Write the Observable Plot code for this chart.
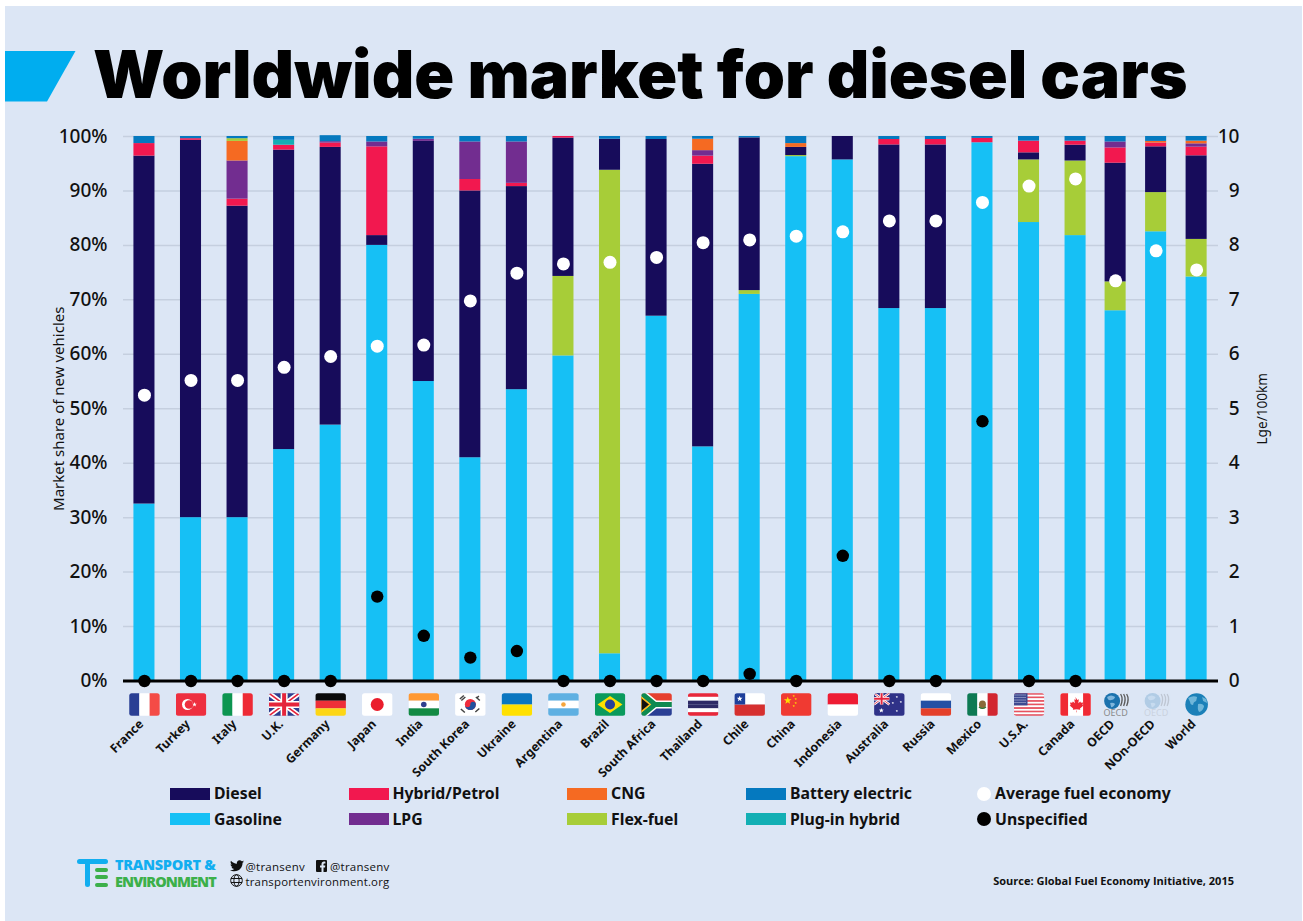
<!DOCTYPE html>
<html><head><meta charset="utf-8">
<script src="https://cdn.jsdelivr.net/npm/d3@7"></script>
<script src="https://cdn.jsdelivr.net/npm/@observablehq/plot@0.6"></script>
<style>
html,body{margin:0;padding:0;background:#fff;}
#page{position:absolute;left:5px;top:6px;width:1297px;height:915px;background:#dce6f5;overflow:hidden;}
#abs{position:absolute;left:0;top:0;width:1303px;height:921px;font-family:"Noto Sans",sans-serif;color:#111;overflow:hidden;}
#ban{position:absolute;left:5px;top:50.5px;}
#title{position:absolute;left:93px;top:30px;font:900 66px/88px Inter,sans-serif;color:#000;white-space:nowrap;letter-spacing:0;}
#chart{position:absolute;left:0;top:120px;}
#chart svg{background:transparent;overflow:visible;}
.lg{position:absolute;font:700 15.8px/20px "Noto Sans",sans-serif;color:#111;white-space:nowrap;}
.sw{position:absolute;width:40px;height:12px;}
.dt{position:absolute;width:14px;height:14px;border-radius:50%;}
.ft{position:absolute;white-space:nowrap;}
</style></head><body>
<div id="page"></div>
<div id="abs">
<svg id="ban" width="71" height="51"><polygon points="0,0 70.5,0 42,50.5 0,50.5" fill="#00adef"/></svg>
<div id="title">Worldwide market for diesel cars</div>
<div id="chart"></div>
<div id="legend"></div>
<svg class="ft" style="left:76px;top:857px" width="34" height="32"><rect x="1" y="2" width="31" height="5" rx="2.5" fill="#12aef0"/><rect x="9" y="2" width="5" height="28" rx="2.5" fill="#12aef0"/><rect x="19" y="11" width="13" height="4" rx="2" fill="#3cb04a"/><rect x="19" y="18" width="13" height="4" rx="2" fill="#3cb04a"/><rect x="19" y="26" width="13" height="4" rx="2" fill="#3cb04a"/></svg>
<div class="ft" style="left:115px;top:856px;font:800 14.5px/18px 'Open Sans',sans-serif;color:#12aef0;letter-spacing:-.3px">TRANSPORT &amp;</div>
<div class="ft" style="left:115px;top:873px;font:800 14.5px/18px 'Open Sans',sans-serif;color:#3cb04a;letter-spacing:-.95px">ENVIRONMENT</div>
<svg class="ft" style="left:230px;top:860px" width="14" height="12" viewBox="0 0 24 20"><path d="M24 2.4c-.9.4-1.8.7-2.8.8 1-.6 1.8-1.6 2.2-2.7-1 .6-2 1-3.1 1.2C19.3.7 18 0 16.600 0c-3.200 0-5.500 3-4.800 6C7.700 5.800 4.100 3.900 1.700.9.400 3.100 1 6 3.200 7.400c-.8 0-1.600-.2-2.200-.6C1 9.100 2.600 11 4.900 11.500c-.7.2-1.400.2-2.200.1.600 1.900 2.400 3.300 4.600 3.400C5.200 16.600 2.600 17.300 0 17c2.200 1.400 4.800 2.200 7.500 2.200 9.100 0 14.300-7.700 14-14.600 1-.7 1.800-1.500 2.500-2.200z" fill="#111"/></svg>
<div class="ft" style="left:245.500px;top:858px;font:500 11.500px/17px 'Open Sans',sans-serif;letter-spacing:.25px">@transenv</div>
<svg class="ft" style="left:316px;top:860px" width="11" height="12" viewBox="0 0 11 12"><rect width="11" height="12" rx="1" fill="#111"/><path d="M7.500 12V7.500H9L9.300 5.500H7.500V4.400c0-.6.2-1 1-1h.9V1.700C9 1.600 8.500 1.600 8 1.600 6.500 1.600 5.500 2.500 5.500 4.200v1.300H4v2h1.500V12z" fill="#dce6f5"/></svg>
<div class="ft" style="left:330px;top:858px;font:500 11.500px/17px 'Open Sans',sans-serif;letter-spacing:.25px">@transenv</div>
<svg class="ft" style="left:230px;top:874px" width="13" height="13" viewBox="0 0 13 13" fill="none" stroke="#111" stroke-width="1"><circle cx="6.500" cy="6.500" r="5.800"/><ellipse cx="6.500" cy="6.500" rx="2.600" ry="5.800"/><path d="M1 4.500H12M1 8.500H12"/></svg>
<div class="ft" style="left:245.500px;top:873px;font:500 11.400px/17px 'Open Sans',sans-serif;letter-spacing:.2px">transportenvironment.org</div>
<div class="ft" style="right:69px;top:873px;font:700 11px/16px 'Open Sans',sans-serif">Source: Global Fuel Economy Initiative, 2015</div>
</div>
<script>
// ---- data (percent of new vehicles, stacked bottom to top) ----
const countries = ["France","Turkey","Italy","U.K.","Germany","Japan","India","South Korea","Ukraine","Argentina","Brazil","South Africa","Thailand","Chile","China","Indonesia","Australia","Russia","Mexico","U.S.A.","Canada","OECD","NOn-OECD","World"];
// position along the category axis: the three aggregate groups sit closer together
const slots = [0,1,2,3,4,5,6,7,8,9,10,11,12,13,14,15,16,17,18,19,20,20.86,21.73,22.6];
const gasoline  = [32.5,30,30,42.5,47,80,55,41,53.5,59.7,5,67,43,71,96.3,95.7,68.4,68.4,98.85,84.2,81.8,68,82.5,74.2];
const flexFuel  = [0,0,0,0,0,0,0,0,0,14.6,88.8,0,0,0.7,0.2,0,0,0,0,11.5,13.7,5.3,7.2,6.9];
const diesel    = [63.9,69.3,57.2,55,51,1.8,44.1,49,37.3,25.4,5.7,32.45,51.9,28.05,1.5,4.3,30.05,30.05,0,1.3,2.9,21.8,8.4,15.35];
const hybrid    = [2.3,0.3,1.3,0.9,0.8,16.3,0,2.1,0.6,0.3,0,0,1.5,0,0,0,1,1,0.8,2.15,0.75,2.8,0.7,1.6];
const lpg       = [0,0,7,0,0.25,0.9,0.4,6.9,7.6,0,0,0,1,0,0,0,0,0,0,0,0,1.1,0,0.6];
const cng       = [0,0,3.6,0,0,0,0,0,0,0,0,0,2.1,0,0.7,0,0,0,0,0,0,0,0.3,0.5];
const flexUpper = [0,0,0.5,0,0,0,0,0,0,0,0,0,0,0,0,0,0,0,0,0,0,0,0,0];
const plugin    = [0,0,0,0.9,0,0,0,0,0,0,0,0,0,0,0,0,0,0,0,0,0,0,0,0];
const battery   = [1.3,0.4,0.4,0.7,1.1,1,0.5,1,1,0,0.5,0.55,0.5,0.25,1.3,0,0.55,0.55,0.35,0.85,0.85,1,0.9,0.85];
// Lge/100km (right axis)
const fuelEconomy = [5.25,5.52,5.52,5.76,5.96,6.15,6.17,6.98,7.49,7.66,7.69,7.78,8.05,8.1,8.17,8.25,8.45,8.45,8.79,9.09,9.22,7.35,7.9,7.55];
const unspecified = [0,0,0,0,0,1.55,0.83,0.43,0.55,0,0,0,0,0.13,0,2.3,0,0,4.77,0,0,null,null,null];
const percentTicks = [0,10,20,30,40,50,60,70,80,90,100];

const layers = [
  ["Gasoline",gasoline],["Flex-fuel",flexFuel],["Diesel",diesel],["Hybrid/Petrol",hybrid],["LPG",lpg],
  ["CNG",cng],["Flex-fuel",flexUpper],["Plug-in hybrid",plugin],["Battery electric",battery]
];
const colorDomain = ["Diesel","Gasoline","Hybrid/Petrol","LPG","CNG","Flex-fuel","Battery electric","Plug-in hybrid"];
const colorRange  = ["#170c5b","#16c0f5","#f2184f","#722d90","#f56a22","#a7cd38","#0579bf","#13afb4"];

// ---- flags ----
const rects=(o,h,cs)=>cs.map((c,i)=>`<rect x="0" y="${o+i*h}" width="31" height="${h+.1}" fill="${c}"/>`).join("");
const vert=(cs)=>cs.map((c,i)=>`<rect x="${i*31/cs.length}" y="0" width="${31/cs.length+.2}" height="23" fill="${c}"/>`).join("");
const jack=(s,w,h)=>`<g transform="scale(${w/31},${h/23})"><rect width="31" height="23" fill="${s}"/><path d="M0 0L31 23M31 0L0 23" stroke="#fff" stroke-width="5"/><path d="M0 0L31 23M31 0L0 23" stroke="#e5243b" stroke-width="1.6"/><path d="M15.500 0V23M0 11.500H31" stroke="#fff" stroke-width="7"/><path d="M15.500 0V23M0 11.500H31" stroke="#e5243b" stroke-width="4"/></g>`;
const star=(x,y,r,c)=>{let p=[];for(let i=0;i<10;i++){const a=-Math.PI/2+i*Math.PI/5,q=i%2?r*.42:r;p.push((x+q*Math.cos(a)).toFixed(2)+","+(y+q*Math.sin(a)).toFixed(2));}return `<polygon points="${p.join(" ")}" fill="${c}"/>`;};
const globe=`<circle cx="12" cy="8" r="8" fill="#1b72ad"/><path d="M7 4q4-3 8 0q-1 3-4 3q-3 1-4-3M10 10q3-1 5 1q-2 4-4 3z" fill="#7fb6dc"/><path d="M20.500 1q3 5 0 12M23.500 1q3 5 0 12M26.500 1q3 5 0 12" fill="none" stroke="#5b5b5b" stroke-width="1.300"/><text x="15.500" y="22.700" text-anchor="middle" font-family="Noto Sans" font-size="9" fill="#8a8a8a">OECD</text>`;
const flagBodies = {
 "France":vert(["#2a3f94","#fff","#f44b46"]),
 "Turkey":`<rect width="31" height="23" fill="#ee2f3f"/><circle cx="12" cy="11.500" r="5.500" fill="#fff"/><circle cx="13.500" cy="11.500" r="4.300" fill="#ee2f3f"/>`+star(19,11.500,2.400,"#fff"),
 "Italy":vert(["#0d9550","#fff","#ee2a35"]),
 "U.K.":jack("#2f3f8f",31,23),
 "Germany":rects(0,7.667,["#0a0a0a","#ee2f38","#fdd616"]),
 "Japan":`<rect width="31" height="23" fill="#fff"/><circle cx="15.500" cy="11.500" r="6.500" fill="#ea1d2c"/>`,
 "India":rects(0,7.667,["#ff9933","#fff","#138a43"])+`<circle cx="15.500" cy="11.500" r="2.800" fill="#2f3f8f"/>`,
 "South Korea":`<rect width="31" height="23" fill="#fff"/><circle cx="15.500" cy="11.500" r="5.500" fill="#ef2b3c"/><path d="M10 11.500a5.500 5.500 0 0 0 11 0a2.750 2.750 0 0 0-5.500 0a2.750 2.750 0 0 1-5.500 0" fill="#20509e"/><path d="M5 6L9 2.500M6.500 7.500L10.500 4M21 4L25 7.500M20.500 19L24.500 15.500M6 16L10 19.500M22 5L24 3" stroke="#444" stroke-width="1.500"/>`,
 "Ukraine":rects(0,11.500,["#0a76c0","#ffe000"]),
 "Argentina":rects(0,7.667,["#5fb0e2","#fff","#5fb0e2"])+`<circle cx="15.500" cy="11.500" r="2.300" fill="#f4a53c"/>`,
 "Brazil":`<rect width="31" height="23" fill="#0a9a5c"/><polygon points="15.500,3 28,11.500 15.500,20 3,11.500" fill="#fedf00"/><circle cx="15.500" cy="11.500" r="5" fill="#27409a"/>`,
 "South Africa":`<rect width="31" height="11.500" fill="#e6402f"/><rect y="11.500" width="31" height="11.500" fill="#2a3f94"/><path d="M0 0L14 11.500L0 23M14 11.500H31" fill="none" stroke="#fff" stroke-width="8"/><path d="M0 0L14 11.500L0 23M14 11.500H31" fill="none" stroke="#0f8a50" stroke-width="5"/><polygon points="0,4 9,11.500 0,19" fill="#111" stroke="#fdb913" stroke-width="1.500"/>`,
 "Thailand":rects(0,23/6,["#e8283a","#fff","#2d2a66","#2d2a66","#fff","#e8283a"]),
 "Chile":`<rect width="31" height="11.500" fill="#fff"/><rect y="11.500" width="31" height="11.500" fill="#d6302f"/><rect width="11" height="11.500" fill="#1f3f9a"/>`+star(5.500,5.800,3,"#fff"),
 "China":`<rect width="31" height="23" fill="#f03a32"/>`+star(7,7.500,4,"#ffdd00")+star(13,3,1.300,"#ffdd00")+star(15,6,1.300,"#ffdd00")+star(15,10,1.300,"#ffdd00")+star(13,13,1.300,"#ffdd00"),
 "Indonesia":rects(0,11.500,["#ee1c33","#fff"]),
 "Australia":`<rect width="31" height="23" fill="#2f3288"/>`+jack("#2f3288",15.500,11.500)+star(7.500,17.500,2.600,"#fff")+star(23,4,1.300,"#fff")+star(27,9,1.300,"#fff")+star(19,10,1.300,"#fff")+star(23,18,1.300,"#fff"),
 "Russia":rects(0,7.667,["#fff","#2350a4","#e4402a"]),
 "Mexico":vert(["#0e7a53","#fff","#d22630"])+`<ellipse cx="15.500" cy="11.500" rx="3.500" ry="4" fill="#8a6a3a"/><path d="M12 14q3.500 3 7 0" stroke="#2f7a3a" stroke-width="1.200" fill="none"/>`,
 "U.S.A.":rects(0,23/13,["#e8525e","#fff","#e8525e","#fff","#e8525e","#fff","#e8525e","#fff","#e8525e","#fff","#e8525e","#fff","#e8525e"])+`<rect width="14" height="12.400" fill="#3d4a91"/><path d="M1 2H13M1 4.500H13M1 7H13M1 9.500H13" stroke="#c7cbe3" stroke-width="1.100" stroke-dasharray="1 1"/>`,
 "Canada":`<rect width="31" height="23" fill="#fff"/><rect width="8" height="23" fill="#f02a34"/><rect x="23" width="8" height="23" fill="#f02a34"/><path d="M15.500 4l1.700 3 1.600-.8-.6 4 2-1.800.7 1.400 2.200-.4-.7 2.500 1 .5-3.500 3 .3 1.300-3.700-.5.300 3h-.6l.3-3-3.700.5.3-1.300-3.500-3 1-.5-.7-2.500 2.200.4.700-1.400 2 1.800-.6-4 1.600.8z" fill="#ee2a35"/>`,
 "OECD":globe,
 "NOn-OECD":`<g opacity=".22">${globe}</g>`,
 "World":`<circle cx="15.500" cy="11.500" r="11.300" fill="#1b80b8"/><path d="M7 5q5-3 9-1l-1 4q-3 1-3 4-3 0-3-3zM17 11q4-1 6 2-1 5-5 6-2-3-1-8zM21 4l4 2 1 4-4-2z" fill="#6fb6d9"/>`
};
const flagSrc = c => {
  const round = c==="OECD"||c==="NOn-OECD"||c==="World";
  const body = round ? flagBodies[c] :
    `<defs><clipPath id="c"><rect x=".3" y=".3" width="30.400" height="22.400" rx="2.500"/></clipPath></defs><g clip-path="url(#c)">${flagBodies[c]}</g>`;
  return "data:image/svg+xml;charset=utf-8,"+encodeURIComponent(`<svg xmlns="http://www.w3.org/2000/svg" width="31" height="23" viewBox="0 0 31 23">${body}</svg>`);
};

// ---- tables for the marks ----
const halfBar = 0.226;
const barRows = layers.flatMap(([name,values],layer)=>countries.map((country,i)=>({slot:slots[i],name,layer,value:values[i]})));
const dotRows = countries.map((country,i)=>({slot:slots[i],country,fuel:fuelEconomy[i],unspec:unspecified[i]}));

const chart = Plot.plot({
  width:1303, height:656,
  marginLeft:123, marginRight:85, marginTop:16, marginBottom:95.5,
  style:{fontFamily:'"Noto Sans",sans-serif',color:"#111",background:"transparent",overflow:"visible"},
  x:{type:"linear",domain:[-0.45,23.07],label:null},
  y:{domain:[0,100],label:null},
  color:{domain:colorDomain,range:colorRange},
  marks:[
    Plot.ruleY(percentTicks,{stroke:"#c5cfdf",strokeWidth:1.5}),
    Plot.rectY(barRows,{x1:d=>d.slot-halfBar,x2:d=>d.slot+halfBar,y:"value",z:"layer",fill:"name"}),
    Plot.ruleY([0],{stroke:"#000",strokeWidth:3}),
    Plot.axisY({anchor:"left",ticks:percentTicks,tickFormat:d=>d+"%",tickSize:0,tickPadding:16,fontSize:19,fontWeight:500,label:null}),
    Plot.axisY({anchor:"left",ticks:[],tickSize:0,fontSize:15,fontWeight:400,label:"Market share of new vehicles",labelAnchor:"center",labelOffset:70,labelArrow:"none"}),
    Plot.axisY({anchor:"right",ticks:percentTicks,tickFormat:d=>String(d/10),tickSize:0,tickPadding:21,textAnchor:"end",fontSize:19,fontWeight:500,label:null}),
    Plot.axisY({anchor:"right",ticks:[],tickSize:0,fontSize:13.6,fontWeight:400,label:"Lge/100km",labelAnchor:"center",labelOffset:48,labelArrow:"none"}),
    Plot.axisX({ticks:slots,tickFormat:d=>countries[slots.indexOf(d)],tickSize:0,tickRotate:-45,tickPadding:41,dx:-3,fontSize:12.3,fontWeight:700,label:null}),
    Plot.image(dotRows,{x:"slot",y:()=>0,src:d=>flagSrc(d.country),width:31,height:23,dy:23.5}),
    Plot.dot(dotRows,{x:"slot",y:d=>d.fuel*10,r:6.5,fill:"#fff"}),
    Plot.dot(dotRows.filter(d=>d.unspec!=null),{x:"slot",y:d=>d.unspec*10,r:6.2,fill:"#000"})
  ]
});
document.getElementById("chart").append(chart);

// ---- legend ----
const legendItems = [
 ["Diesel",0,0],["Gasoline",0,1],["Hybrid/Petrol",1,0],["LPG",1,1],["CNG",2,0],["Flex-fuel",2,1],["Battery electric",3,0],["Plug-in hybrid",3,1]
];
const legendX=[170,348.5,567,746], legendY=[793.5,819];
const lg=document.getElementById("legend");
legendItems.forEach(([n,c,r])=>{
  const s=document.createElement("div");s.className="sw";s.style.cssText=`left:${legendX[c]}px;top:${legendY[r]-6}px;background:${colorRange[colorDomain.indexOf(n)]}`;lg.append(s);
  const t=document.createElement("div");t.className="lg";t.textContent=n;t.style.cssText=`left:${legendX[c]+44}px;top:${legendY[r]-10.5}px`;lg.append(t);
});
[["Average fuel economy","#fff",0],["Unspecified","#000",1]].forEach(([n,col,r])=>{
  const s=document.createElement("div");s.className="dt";s.style.cssText=`left:977px;top:${legendY[r]-7}px;background:${col}`;lg.append(s);
  const t=document.createElement("div");t.className="lg";t.textContent=n;t.style.cssText=`left:995px;top:${legendY[r]-10.5}px`;lg.append(t);
});
</script>
</body></html>
